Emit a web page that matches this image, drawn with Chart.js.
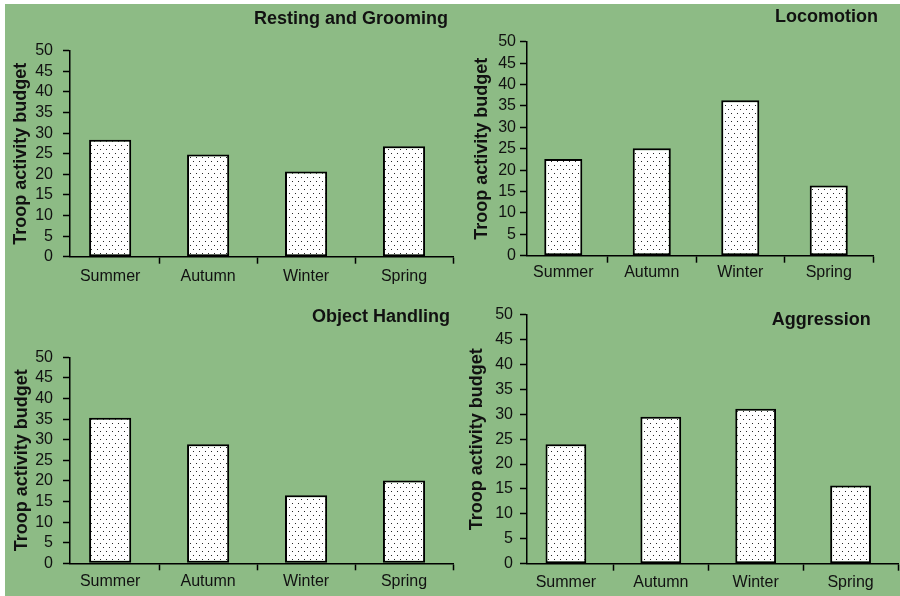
<!DOCTYPE html>
<html>
<head>
<meta charset="utf-8">
<title>Troop activity budget by season</title>
<script src="https://cdn.jsdelivr.net/npm/chart.js@4.4.1/dist/chart.umd.min.js"></script>
<style>
  html, body { margin: 0; padding: 0; background: #ffffff; }
  body { position: relative; width: 900px; height: 596px; overflow: hidden; }
  #sheet { position: absolute; left: 5px; top: 4px; width: 895px; height: 592px; background: #8dbb85; }
  canvas { position: absolute; }
</style>
</head>
<body>
<div id="sheet"></div>
<canvas id="c1"></canvas>
<canvas id="c2"></canvas>
<canvas id="c3"></canvas>
<canvas id="c4"></canvas>
<script>
// Seasons along the x axis
const seasons = ['Summer', 'Autumn', 'Winter', 'Spring'];

// Troop activity budget per season, one list per behaviour
const restingGrooming = [28.4, 24.8, 20.7, 26.8];
const locomotion      = [22.6, 25.1, 36.3, 16.4];
const objectHandling  = [35.3, 28.9, 16.5, 20.1];
const aggression      = [24.0, 29.5, 31.1, 15.7];

// Value-axis ticks and the category boundaries / centres on the x axis
const yTickValues = [0, 5, 10, 15, 20, 25, 30, 35, 40, 45, 50];
const xTickValues = [0, 0.5, 1, 1.5, 2, 2.5, 3, 3.5];

const FONT = "'Liberation Sans', Arial, Helvetica, sans-serif";
const INK = '#111111';
Chart.defaults.font.family = FONT;
Chart.defaults.color = INK;

// Stippled white fill used for every bar
function makeDotFill() {
  const tile = document.createElement('canvas');
  tile.width = 6; tile.height = 8;
  const t = tile.getContext('2d');
  t.fillStyle = '#ffffff';
  t.fillRect(0, 0, 6, 8);
  t.fillStyle = '#262626';
  t.fillRect(1, 1, 1, 1);
  t.fillRect(4, 5, 1, 1);
  return t.createPattern(tile, 'repeat');
}
const dotFill = makeDotFill();

// Bold panel heading, right aligned
const panelTitle = {
  id: 'panelTitle',
  afterDraw(chart, args, opts) {
    const ctx = chart.ctx;
    ctx.save();
    ctx.font = 'bold 18px ' + FONT;
    ctx.fillStyle = INK;
    ctx.textAlign = 'right';
    ctx.textBaseline = 'middle';
    ctx.fillText(opts.text, opts.x, opts.y);
    ctx.restore();
  }
};

const panels = [
  { id: 'c1', title: 'Resting and Grooming', values: restingGrooming,
    box: { left: 0, top: 0, width: 460, height: 298 },
    pad: { left: 0, right: 7, top: 50.7, bottom: 11.3 },
    yAxisWidth: 70, yTitlePad: 9.9, yTickPad: 10, xTickPad: 3, head: { x: 448, y: 19 } },
  { id: 'c2', title: 'Locomotion', values: locomotion,
    box: { left: 460, top: 0, width: 440, height: 298 },
    pad: { left: 0, right: 27, top: 41.7, bottom: 12.3 },
    yAxisWidth: 67, yTitlePad: 10.9, yTickPad: 4, xTickPad: 0, head: { x: 418, y: 17 } },
  { id: 'c3', title: 'Object Handling', values: objectHandling,
    box: { left: 0, top: 298, width: 460, height: 298 },
    pad: { left: 0, right: 7, top: 59.3, bottom: 2.7 },
    yAxisWidth: 70, yTitlePad: 10.9, yTickPad: 10, xTickPad: 2, head: { x: 450, y: 18.7 } },
  { id: 'c4', title: 'Aggression', values: aggression,
    box: { left: 460, top: 298, width: 440, height: 298 },
    pad: { left: 0, right: 0, top: 14.3, bottom: 2.3 },
    yAxisWidth: 67, yTitlePad: 5.9, yTickPad: 7, xTickPad: 2, head: { x: 410.7, y: 22 } }
];

panels.forEach(p => {
  const canvas = document.getElementById(p.id);
  canvas.width = p.box.width;
  canvas.height = p.box.height;
  canvas.style.left = p.box.left + 'px';
  canvas.style.top = p.box.top + 'px';
  canvas.style.width = p.box.width + 'px';
  canvas.style.height = p.box.height + 'px';

  new Chart(canvas, {
    type: 'bar',
    data: {
      datasets: [{
        data: p.values.map((v, i) => ({ x: i, y: v })),
        backgroundColor: dotFill,
        borderColor: '#000000',
        borderWidth: 2,
        borderSkipped: false,
        categoryPercentage: 1,
        barPercentage: 0.86
      }]
    },
    options: {
      responsive: false,
      animation: false,
      devicePixelRatio: 1,
      layout: { padding: p.pad },
      plugins: {
        legend: { display: false },
        tooltip: { enabled: false },
        panelTitle: { text: p.title, x: p.head.x, y: p.head.y }
      },
      scales: {
        x: {
          type: 'linear',
          min: -0.41,
          max: 3.5,
          offset: false,
          afterBuildTicks: axis => { axis.ticks = xTickValues.map(v => ({ value: v })); },
          afterFit: axis => { axis.height = 30; },
          ticks: {
            autoSkip: false,
            maxRotation: 0,
            padding: p.xTickPad,
            color: INK,
            font: { size: 16 },
            callback: v => Number.isInteger(v) ? seasons[v] : ''
          },
          grid: {
            offset: false,
            drawOnChartArea: false,
            drawTicks: true,
            tickLength: 7,
            tickWidth: 1.5,
            tickColor: c => (c.tick && Number.isInteger(c.tick.value)) ? 'rgba(0,0,0,0)' : '#000000'
          },
          border: { display: true, color: '#000000', width: 1.5 }
        },
        y: {
          min: 0,
          max: 50,
          afterBuildTicks: axis => { axis.ticks = yTickValues.map(v => ({ value: v })); },
          afterFit: axis => { axis.width = p.yAxisWidth; },
          ticks: { autoSkip: false, padding: p.yTickPad, color: INK, font: { size: 16 } },
          grid: {
            drawOnChartArea: false,
            drawTicks: true,
            tickLength: 7,
            tickWidth: 1.5,
            tickColor: '#000000'
          },
          border: { display: true, color: '#000000', width: 1.5 },
          title: {
            display: true,
            text: 'Troop activity budget',
            color: INK,
            font: { size: 18, weight: 'bold' },
            padding: { top: p.yTitlePad, bottom: 0 }
          }
        }
      }
    },
    plugins: [panelTitle]
  });
});
</script>
</body>
</html>
